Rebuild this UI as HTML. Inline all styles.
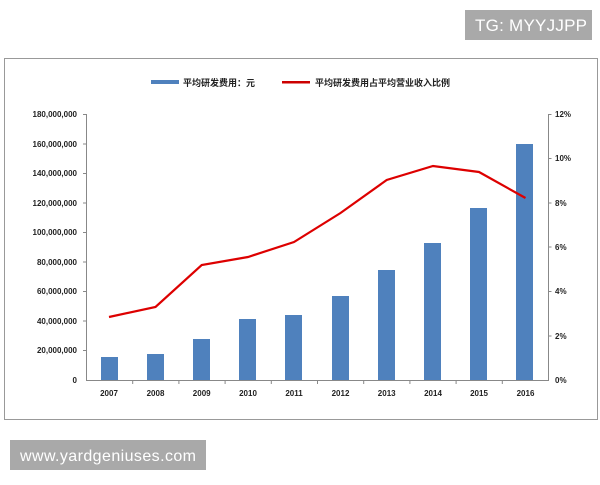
<!DOCTYPE html><html><head><meta charset="utf-8"><style>body{margin:0;background:#fff;width:600px;height:480px;overflow:hidden;font-family:"Liberation Sans","Noto Sans CJK SC",sans-serif}</style></head><body>
<svg width="600" height="480" xmlns="http://www.w3.org/2000/svg" font-family="Liberation Sans, Noto Sans CJK SC, sans-serif">
<rect x="465" y="10" width="127" height="30" fill="#a9a9a9"/>
<text x="531" y="31" font-size="17" fill="#fff" text-anchor="middle" textLength="112">TG: MYYJJPP</text>
<rect x="4.5" y="58.5" width="593" height="361" fill="#fff" stroke="#999"/>
<rect x="151" y="80" width="28" height="4" fill="#4f81bd"/>
<text x="183" y="86" font-size="9" fill="#222" font-weight="bold">平均研发费用：元</text>
<rect x="282" y="81" width="28" height="2.5" fill="#c00"/>
<text x="315" y="86" font-size="9" fill="#222" font-weight="bold">平均研发费用占平均营业收入比例</text>
<g font-size="8" fill="#222" text-anchor="end" font-weight="bold">
<text x="77" y="117">180,000,000</text><text x="77" y="147">160,000,000</text><text x="77" y="176">140,000,000</text><text x="77" y="206">120,000,000</text><text x="77" y="235">100,000,000</text><text x="77" y="265">80,000,000</text><text x="77" y="294">60,000,000</text><text x="77" y="324">40,000,000</text><text x="77" y="353">20,000,000</text><text x="77" y="383">0</text>
</g>
<g font-size="8" fill="#222" font-weight="bold">
<text x="555" y="117">12%</text><text x="555" y="161">10%</text><text x="555" y="206">8%</text><text x="555" y="250">6%</text><text x="555" y="294">4%</text><text x="555" y="339">2%</text><text x="555" y="383">0%</text>
</g>
<g stroke="#888" stroke-width="1" fill="none">
<path d="M86.5 114V380.5H548.5V114"/>
<path d="M83 114.5h3.5M83 144h3.5M83 173.5h3.5M83 203h3.5M83 232.5h3.5M83 262h3.5M83 291.5h3.5M83 321h3.5M83 350.5h3.5"/>
<path d="M548.5 114.5h3M548.5 158.5h3M548.5 203h3M548.5 247h3M548.5 291.5h3M548.5 336h3"/>
<path d="M132.7 380v4M178.9 380v4M225.1 380v4M271.3 380v4M317.5 380v4M363.7 380v4M409.9 380v4M456.1 380v4M502.3 380v4"/>
</g>
<g fill="#4f81bd">
<rect x="101" y="357" width="17" height="23"/><rect x="147" y="354" width="17" height="26"/><rect x="193" y="339" width="17" height="41"/><rect x="239" y="319" width="17" height="61"/><rect x="285" y="315" width="17" height="65"/><rect x="332" y="296" width="17" height="84"/><rect x="378" y="270" width="17" height="110"/><rect x="424" y="243" width="17" height="137"/><rect x="470" y="208" width="17" height="172"/><rect x="516" y="144" width="17" height="236"/>
</g>
<polyline fill="none" stroke="#d00" stroke-width="2.2" points="109,317 155.5,307 201.7,265 248,257 294,242 340.5,213 386.7,180 433,166 479,172 525.5,198"/>
<g font-size="8" fill="#222" text-anchor="middle" font-weight="bold">
<text x="109" y="396">2007</text><text x="155.5" y="396">2008</text><text x="201.7" y="396">2009</text><text x="248" y="396">2010</text><text x="294" y="396">2011</text><text x="340.5" y="396">2012</text><text x="386.7" y="396">2013</text><text x="433" y="396">2014</text><text x="479" y="396">2015</text><text x="525.5" y="396">2016</text>
</g>
<rect x="10" y="440" width="196" height="30" fill="#a9a9a9"/>
<text x="108" y="461" font-size="16" fill="#fff" text-anchor="middle" textLength="176">www.yardgeniuses.com</text>
</svg></body></html>
